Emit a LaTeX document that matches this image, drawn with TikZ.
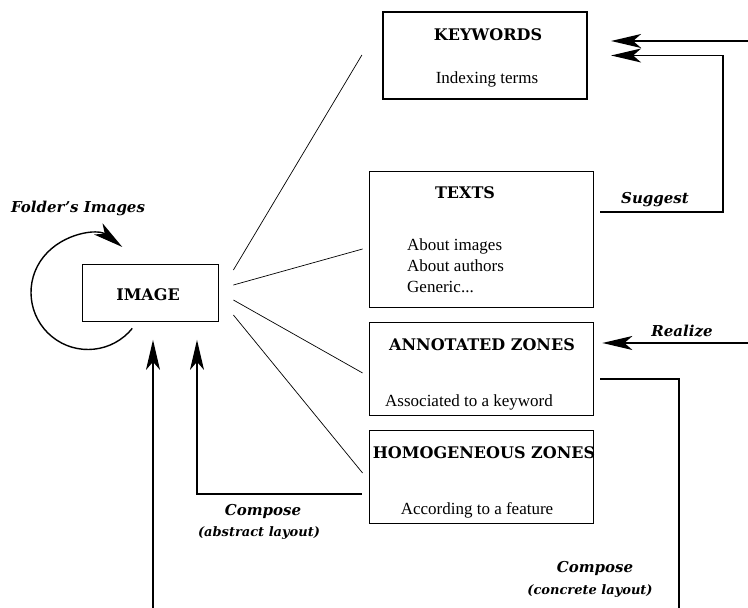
\documentclass[tikz,border=0pt]{standalone}
\usepackage{fontspec}
\setmainfont{Liberation Serif}
\newfontfamily\headfont{DejaVu Serif}
\usetikzlibrary{positioning,calc,arrows.meta}

\begin{document}
\begin{tikzpicture}[x=1pt, y=1pt,
    box/.style={draw, line width=0.8pt, inner sep=0pt},
    title/.style={font=\headfont\bfseries\fontsize{16}{19}\selectfont, inner sep=0pt},
    body/.style={font=\fontsize{17}{21}\selectfont, inner sep=0pt},
    lab/.style={font=\headfont\bfseries\itshape\fontsize{15}{18}\selectfont, inner sep=0pt},
    sublab/.style={font=\headfont\bfseries\itshape\fontsize{13}{15}\selectfont, inner sep=0pt},
    conn/.style={line width=1.4pt, -{Stealth[length=30pt,width=14pt,inset=8pt]}},
    plain/.style={line width=1.4pt},
    fan/.style={line width=0.7pt}]
            \useasboundingbox (0,0) rectangle (748,608);

            % boxes
            \node (img) at (150,315.5) [box, minimum width=136pt, minimum height=57pt] {};
            \node (kw) at (485,552.5) [box, line width=2.2pt, minimum width=204pt, minimum height=87pt] {};
            \node (tx) at (481,369) [box, minimum width=224pt, minimum height=136pt] {};
            \node (az) at (481,239.5) [box, minimum width=224pt, minimum height=93pt] {};
            \node (hz) at (481,131.5) [box, minimum width=224pt, minimum height=93pt] {};

            \node (imgT) at (148,313) [title] {IMAGE};
            \node (kwT) at (488,573) [title] {KEYWORDS};
            \node (kwB) at (487,529) [body] {Indexing terms};
            \node (txT) at (465,415) [title] {TEXTS};
            \node (txB) at (407,369) [body, align=left, anchor=north west] {About images\\About authors\\Generic...};
            \node (azT) at (482,263) [title] {ANNOTATED ZONES};
            \node (azB) at (469,206) [body] {Associated to a keyword};
            \node (hzT) at (484,155) [title] {HOMOGENEOUS ZONES};
            \node (hzB) at (477,98) [body] {According to a feature};

            % labels
            \node (fold) at (78,400) [lab] {Folder’s Images};
            \node (sug) at (655,408) [lab] {Suggest};
            \node (rea) at (682,277) [lab] {Realize};
            \node (cmpC) at (595,40) [lab] {Compose};
            \node (cmpCs) at (590,17) [sublab] {(concrete layout)};
            \node (cmpA) at (263,97) [lab] {Compose};
            \node (cmpAs) at (259,75) [sublab] {(abstract layout)};

            \coordinate (inKw) at (748,567);
            \coordinate (inAz) at (748,265);
            \coordinate (outImg) at (153,0);
            \coordinate (outAz) at (679,0);

            % fan
            \draw [fan] ([xshift=15pt,yshift=22.5pt]img.east) -- ([xshift=-20pt,yshift=0.5pt]kw.west);
            \draw [fan] ([xshift=15pt,yshift=7.5pt]img.east) -- ([xshift=-6pt,yshift=-10pt]tx.west);
            \draw [fan] ([xshift=15pt,yshift=-7.5pt]img.east) -- ([xshift=-6pt,yshift=-4.5pt]az.west);
            \draw [fan] ([xshift=15pt,yshift=-22.5pt]img.east) -- ([xshift=-6pt,yshift=3.5pt]hz.west);

            % feedback
            \draw [conn] (inKw) -- ([xshift=23pt,yshift=14.5pt]kw.east);
            \draw [conn] ([xshift=7pt,yshift=27pt]tx.east) -| ([xshift=135pt]kw.east) -- ([xshift=23pt]kw.east);
            \draw [conn] (inAz) -- ([xshift=9pt,yshift=25.5pt]az.east);
            \draw [plain] ([xshift=7pt,yshift=-10.5pt]az.east) -| (outAz);
            \draw [conn] ([xshift=-7pt,yshift=-17.5pt]hz.west) -| ([xshift=47pt,yshift=-18.5pt]img.south);
            \draw [conn] (outImg) -- ([xshift=3pt,yshift=-18.5pt]img.south);

            % loop
            \draw [conn] ([xshift=-62pt]img.center) ++(-39:57) arc [start angle=-39, end angle=-307, radius=57];
        \end{tikzpicture}
\end{document}
